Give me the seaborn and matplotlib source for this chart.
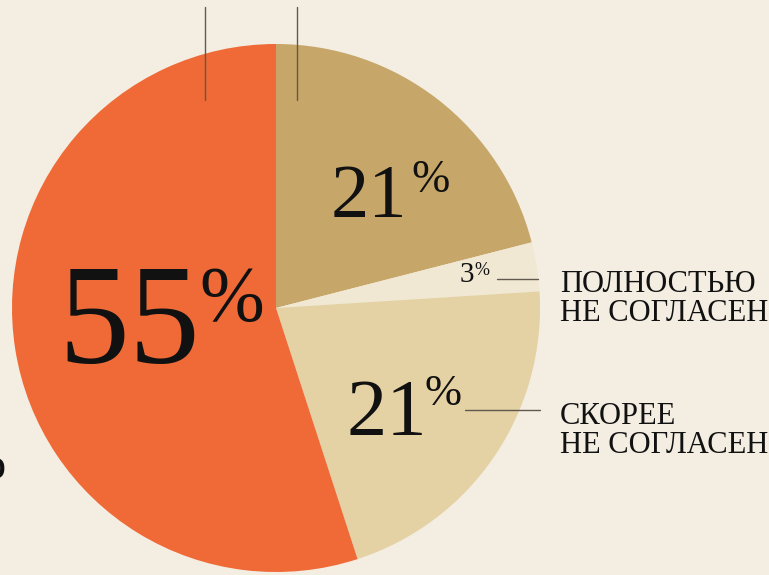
import matplotlib
matplotlib.use("Agg")
import matplotlib.pyplot as plt
from matplotlib import font_manager
import seaborn as sns

# shares, clockwise from 12 o'clock
labels = ["21%", "3%", "21%", "55%"]
shares = [21, 3, 21, 55]
colors = ["#C7A769", "#F1E8D3", "#E4D1A4", "#EF6A37"]

answer_3 = ["ПОЛНОСТЬЮ", "НЕ СОГЛАСЕН"]
answer_21 = ["СКОРЕЕ", "НЕ СОГЛАСЕН"]

W, H = 769, 575
bg = "#F4EEE2"

sns.set_theme(style="white", rc={"figure.facecolor": bg, "axes.facecolor": bg})
have = {f.name for f in font_manager.fontManager.ttflist}
serif = "Liberation Serif" if "Liberation Serif" in have else "DejaVu Serif"
plt.rcParams["font.family"] = [serif, "DejaVu Serif"]

fig = plt.figure(figsize=(W / 100, H / 100), dpi=100)
ax = fig.add_axes([0, 0, 1, 1])

# pie is bigger than the frame, centre in pixel coords (y up)
cx, cy, r = 276, H - 308, 264
ax.pie(shares, colors=colors, startangle=90, counterclock=False,
       center=(cx, cy), radius=r, frame=True,
       wedgeprops=dict(linewidth=0))
ax.set_xlim(0, W)
ax.set_ylim(0, H)
ax.set_aspect("equal")
ax.axis("off")

def py(y):
    return H - y

ink = "#111111"

# big numbers with small raised percent sign
ax.text(58, py(363), labels[3][:-1], fontsize=102, color=ink, ha="left", va="baseline")
ax.text(199, py(320), "%", fontsize=56, color=ink, ha="left", va="baseline")

ax.text(331, py(217), labels[0][:-1], fontsize=55, color=ink, ha="left", va="baseline")
ax.text(411, py(192), "%", fontsize=33, color=ink, ha="left", va="baseline")

ax.text(346, py(435), labels[2][:-1], fontsize=58, color=ink, ha="left", va="baseline")
ax.text(425, py(405), "%", fontsize=32, color=ink, ha="left", va="baseline")

ax.text(460, py(282), labels[1][:-1], fontsize=21, color=ink, ha="left", va="baseline")
ax.text(474, py(275), "%", fontsize=13, color=ink, ha="left", va="baseline")

# leader lines
line_c = "#5f594f"
ax.plot([497, 538], [py(279), py(279)], color=line_c, lw=1)
ax.plot([465, 540], [py(410), py(410)], color=line_c, lw=1)
ax.plot([205, 205], [py(7), py(100)], color=line_c, lw=1)
ax.plot([297, 297], [py(7), py(100)], color=line_c, lw=1)

# answer captions
ax.text(560, py(292), answer_3[0], fontsize=22, color=ink, ha="left", va="baseline")
ax.text(560, py(321), answer_3[1], fontsize=22, color=ink, ha="left", va="baseline")
ax.text(560, py(424), answer_21[0], fontsize=22, color=ink, ha="left", va="baseline")
ax.text(560, py(453), answer_21[1], fontsize=22, color=ink, ha="left", va="baseline")

# cut-off glyph at left edge
ax.text(5, py(478), "%", fontsize=40, color=ink, ha="right", va="baseline")

fig.savefig("out.png", dpi=100, facecolor=bg)
